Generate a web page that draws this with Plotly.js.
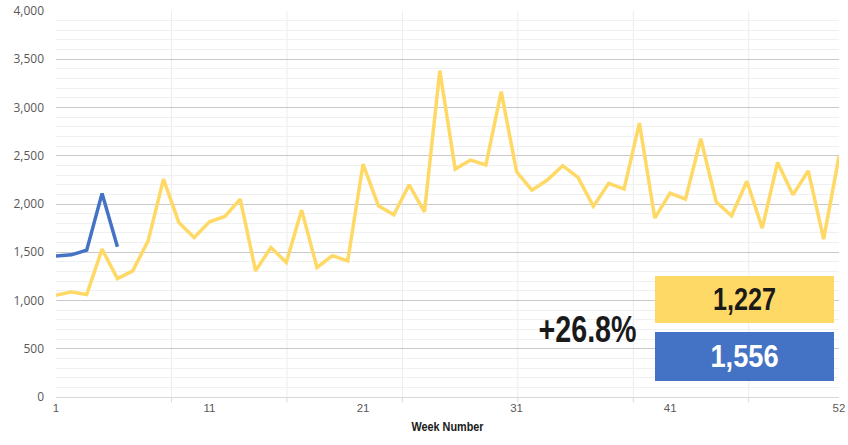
<!DOCTYPE html>
<html>
<head>
<meta charset="utf-8">
<script src="https://cdn.plot.ly/plotly-3.0.1.min.js"></script>
<style>
  html, body { margin: 0; padding: 0; background: #ffffff; }
  #chart { width: 848px; height: 445px; }
</style>
</head>
<body>
<div id="chart"></div>
<script>
// ---- data ----
const weeks = Array.from({length: 52}, (_, i) => i + 1);
const lastYear = [1055, 1089, 1062, 1532, 1227, 1307, 1618, 2258, 1809, 1653,
                  1815, 1871, 2051, 1307, 1550, 1394, 1937, 1342, 1465, 1411,
                  2414, 1982, 1888, 2199, 1919, 3382, 2362, 2455, 2404, 3164,
                  2334, 2144, 2248, 2397, 2276, 1975, 2214, 2155, 2839, 1854,
                  2113, 2051, 2676, 2023, 1878, 2235, 1750, 2431, 2095, 2344,
                  1636, 2493];
const thisWeeks = [1, 2, 3, 4, 5];
const thisYear = [1462, 1473, 1522, 2110, 1556];
const xTickVals = [1, 11, 21, 31, 41, 52];
const xTickText = ['1', '11', '21', '31', '41', '52'];
const xTitle = 'Week Number';

// comparison (current week)
const curIdx = thisYear.length - 1;
const prevVal = lastYear[curIdx];
const curVal = thisYear[curIdx];
const pct = (curVal / prevVal - 1) * 100;
const fmt = v => v.toLocaleString('en-US');
const pctText = (pct >= 0 ? '+' : '') + pct.toFixed(1) + '%';

const YELLOW = '#FFD966';
const BLUE = '#4472C4';
const sans = '"Liberation Sans", Arial, sans-serif';

// vertical light gridlines (every ~7.52 weeks as in reference)
const vStep = 7.52;
const shapes = [];
for (let k = 1; k * vStep + 1 <= 52.5; k++) {
  const xv = 1 + k * vStep;
  shapes.push({type: 'line', xref: 'x', yref: 'paper', x0: xv, x1: xv, y0: 0, y1: 1,
               line: {color: '#ececec', width: 1}, layer: 'below'});
  shapes.push({type: 'line', xref: 'x', yref: 'paper', x0: xv, x1: xv, y0: 0, y1: -0.014,
               line: {color: '#d9d9d9', width: 1}, layer: 'below'});
}

const traces = [
  {x: weeks, y: lastYear, type: 'scatter', mode: 'lines',
   line: {color: YELLOW, width: 3.5}, hoverinfo: 'skip', name: 'Last year'},
  {x: thisWeeks, y: thisYear, type: 'scatter', mode: 'lines',
   line: {color: BLUE, width: 3.5}, hoverinfo: 'skip', name: 'This year'}
];

const layout = {
  width: 848, height: 445,
  margin: {l: 56, r: 9, t: 11, b: 48},
  paper_bgcolor: '#ffffff', plot_bgcolor: '#ffffff',
  showlegend: false,
  xaxis: {
    range: [1, 52], tickvals: xTickVals, ticktext: xTickText,
    showgrid: false, zeroline: false, showline: true, linecolor: '#d9d9d9', linewidth: 1,
    ticks: '', tickfont: {family: sans, size: 11.5, color: '#595959'},
    title: {text: xTitle, font: {family: sans, size: 12.5, color: '#1a1a1a', weight: 'bold'}, standoff: 9},
    fixedrange: true
  },
  yaxis: {
    range: [0, 4000], dtick: 500, tickformat: ',d',
    showgrid: true, gridcolor: '#c9c9c9', gridwidth: 1, zeroline: false,
    ticks: '', ticklabelstandoff: 11,
    tickfont: {family: '"Open Sans", "Noto Sans", sans-serif', size: 12, color: '#595959'},
    minor: {dtick: 100, showgrid: true, gridcolor: '#f0f0f0', gridwidth: 1},
    fixedrange: true
  },
  shapes: shapes,
  annotations: [
    {xref: 'paper', yref: 'paper', x: 0.8793, y: 0.2526, xanchor: 'center', yanchor: 'middle',
     text: fmt(prevVal), showarrow: false,
     width: 179, height: 47, bgcolor: YELLOW, borderpad: 0, borderwidth: 0,
     font: {family: sans, size: 31, color: '#1a1a1a', weight: 'bold'}},
    {xref: 'paper', yref: 'paper', x: 0.8793, y: 0.1049, xanchor: 'center', yanchor: 'middle',
     text: fmt(curVal), showarrow: false,
     width: 179, height: 49, bgcolor: BLUE, borderpad: 0, borderwidth: 0,
     font: {family: sans, size: 31, color: '#ffffff', weight: 'bold'}},
    {xref: 'paper', yref: 'paper', x: (587 - 56) / 783, y: (397 - 329.7) / 386,
     xanchor: 'center', yanchor: 'middle',
     text: pctText, showarrow: false,
     font: {family: sans, size: 36, color: '#1a1a1a', weight: 'bold'}}
  ]
};

// condensed look: squeeze the bold texts horizontally to the reference widths
function condense(el, w) {
  if (!el) return;
  el.setAttribute('textLength', w);
  el.setAttribute('lengthAdjust', 'spacingAndGlyphs');
}

Plotly.newPlot('chart', traces, layout, {staticPlot: true, displayModeBar: false}).then(gd => {
  const ann = gd.querySelectorAll('.annotation-text');
  const widths = [63, 68, 98];
  ann.forEach((t, i) => condense(t, widths[i]));
  condense(gd.querySelector('.xtitle'), 72);
});
</script>
</body>
</html>
